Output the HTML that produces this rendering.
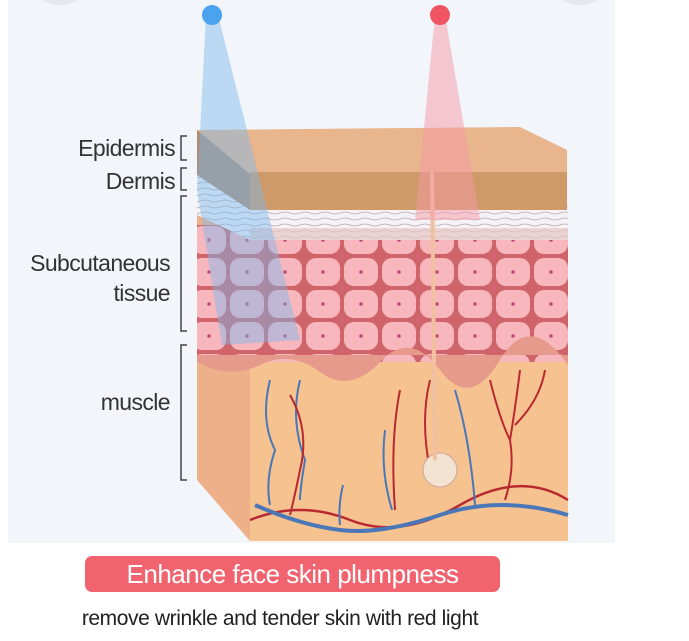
<!DOCTYPE html>
<html><head><meta charset="utf-8"><style>
html,body{margin:0;padding:0;background:#fff;width:689px;height:641px;overflow:hidden;font-family:"Liberation Sans",sans-serif}
.lab{position:absolute;color:#333;font-size:23px;text-align:right;width:175px;left:0;letter-spacing:-0.6px}
</style></head><body>
<svg width="689" height="641" style="position:absolute;left:0;top:0">
<defs>
<pattern id="cells" width="38" height="32" patternUnits="userSpaceOnUse">
<rect width="38" height="32" fill="#d0646b"/>
<rect x="2" y="2" width="34" height="28" rx="10" fill="#f7b7bd"/>
<circle cx="19" cy="16" r="1.8" fill="#c04a7a"/>
</pattern>
<pattern id="fib" width="20" height="6" patternUnits="userSpaceOnUse">
<rect width="20" height="6" fill="#f4f2f6"/>
<path d="M0 3 Q5 1 10 3 T20 3" stroke="#b8a6aa" stroke-width="0.8" fill="none"/>
</pattern>
</defs>
<rect x="8" y="0" width="607" height="543" fill="#f2f5fa"/>
<circle cx="60" cy="-30" r="35" fill="#e6e8ee"/>
<circle cx="580" cy="-30" r="35" fill="#e6e8ee"/>
<polygon points="197,130 250,172 250,541 197,480" fill="#eeb088"/>
<rect x="250" y="360" width="318" height="181" fill="#f6c290"/>
<rect x="197" y="225" width="371" height="137" fill="url(#cells)"/>
<path d="M197 362 Q230 380 260 365 T320 372 T380 362 T440 370 T500 360 T568 365 L568 355 L197 355Z" fill="#e69a8c"/>
<polygon points="197,175 250,205 568,205 568,240 250,240 197,215" fill="url(#fib)"/>
<rect x="250" y="228" width="318" height="12" fill="#e7c4c4" opacity="0.7"/>
<polygon points="197,130 520,127 567,150 567,172 250,174" fill="#e9b58c"/>
<polygon points="197,130 250,174 250,210 197,175" fill="#b08a72"/>
<rect x="250" y="172" width="317" height="38" fill="#cf9a69"/>
<g fill="none" stroke-width="2.5">
<path d="M250 520 Q300 500 350 520 T460 505 T568 500" stroke="#b82a30"/>
<path d="M255 505 Q300 525 340 530 T440 515 T568 515" stroke="#4a77b8" stroke-width="4"/>
<path d="M270 380 Q260 420 275 450 Q265 480 270 505" stroke="#4a77b8" stroke-width="2"/>
<path d="M300 380 Q290 420 305 460 Q300 490 300 500" stroke="#4a77b8" stroke-width="2"/>
<path d="M290 395 Q310 430 300 470 Q295 495 290 515" stroke="#b82a30" stroke-width="2"/>
<path d="M400 390 Q390 440 395 510" stroke="#b82a30" stroke-width="2"/>
<path d="M385 430 Q380 470 392 510" stroke="#4a77b8" stroke-width="2"/>
<path d="M430 380 Q420 420 430 470" stroke="#b82a30" stroke-width="2"/>
<path d="M455 390 Q470 440 475 505" stroke="#4a77b8" stroke-width="2"/>
<path d="M490 380 Q500 420 510 440 Q515 470 505 500" stroke="#b82a30" stroke-width="2"/>
<path d="M520 370 Q515 410 510 440 M545 370 Q540 400 515 425" stroke="#b82a30" stroke-width="2"/>
<path d="M343 485 Q338 505 340 525" stroke="#4a77b8" stroke-width="2"/>
</g>
<circle cx="440" cy="470" r="17" fill="#f4e2d2" stroke="#c8a898"/>
<line x1="432" y1="172" x2="435" y2="460" stroke="#f0c0a0" stroke-width="4"/>
<polygon points="206,15 218,15 300,340 222,345 197,190" fill="#7ab8ee" opacity="0.45"/>
<polygon points="435,15 445,15 480,220 415,220" fill="#f59aa6" opacity="0.5"/>
<circle cx="212" cy="15" r="10" fill="#4ba2ee"/>
<circle cx="440" cy="15" r="10" fill="#ef5562"/>
<g fill="none" stroke="#444" stroke-width="1.5">
<path d="M187 136 H181 V160 H187"/>
<path d="M187 168 H181 V190 H187"/>
<path d="M187 196 H181 V331 H187"/>
<path d="M187 345 H181 V480 H187"/>
</g>
<rect x="85" y="556" width="415" height="36" rx="7" fill="#f0636f"/>
</svg>
<div class="lab" style="top:135px">Epidermis</div>
<div class="lab" style="top:168px">Dermis</div>
<div class="lab" style="top:250px;left:-5px;width:175px">Subcutaneous</div>
<div class="lab" style="top:280px;left:-5px;width:175px">tissue</div>
<div class="lab" style="top:389px;left:-5px;width:175px">muscle</div>
<div style="position:absolute;left:85px;top:557px;width:415px;text-align:center;color:#fff;font-size:26px;line-height:34px;letter-spacing:-0.5px">Enhance face skin plumpness</div>
<div style="position:absolute;left:20px;top:607px;width:520px;text-align:center;color:#222;font-size:21px;letter-spacing:-0.4px">remove wrinkle and tender skin with red light</div>
</body></html>
